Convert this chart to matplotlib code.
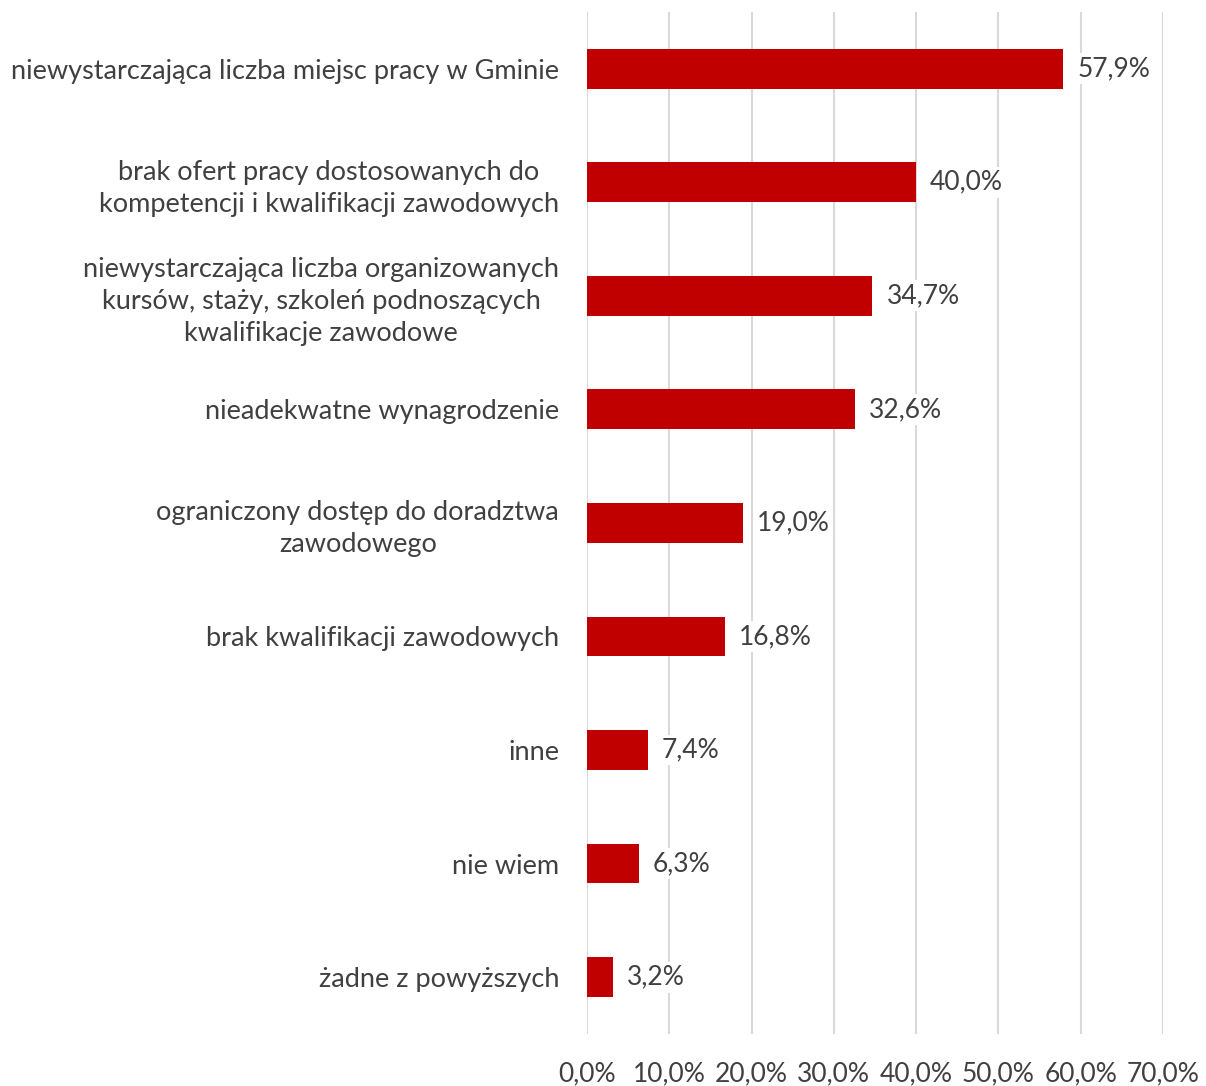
import matplotlib
matplotlib.use("Agg")
import matplotlib.pyplot as plt
from matplotlib.ticker import FuncFormatter

plt.rcParams["font.family"] = ["Lato", "DejaVu Sans"]

categories = [
	"niewystarczająca liczba miejsc pracy w Gminie",
	"brak ofert pracy dostosowanych do\nkompetencji i kwalifikacji zawodowych",
	"niewystarczająca liczba organizowanych\nkursów, staży, szkoleń podnoszących\nkwalifikacje zawodowe",
	"nieadekwatne wynagrodzenie",
	"ograniczony dostęp do doradztwa\nzawodowego",
	"brak kwalifikacji zawodowych",
	"inne",
	"nie wiem",
	"żadne z powyższych",
]
values = [57.9, 40.0, 34.7, 32.6, 19.0, 16.8, 7.4, 6.3, 3.2]
xticks = [0, 10, 20, 30, 40, 50, 60, 70]

text_color = "#404040"

fig = plt.figure(figsize=(12.06, 10.86), dpi=100)
ax = fig.add_axes([0.4867, 0.048, 0.4776, 0.941])

pos = range(len(categories))
ax.barh(pos, values, height=0.35, color="#C00000", zorder=2)

for y, v in zip(pos, values):
	ax.text(v + 1.7, y, f"{v:.1f}%".replace(".", ","), va="center", ha="left",
			fontsize=19, color=text_color, zorder=3,
			bbox=dict(facecolor="white", edgecolor="none", pad=2))

ax.set_xlim(0, 70)
ax.set_ylim(8.5, -0.5)
ax.set_xticks(xticks)
ax.xaxis.set_major_formatter(FuncFormatter(lambda x, _: f"{x:.1f}%".replace(".", ",")))
ax.set_yticks(list(pos))
ax.set_yticklabels(categories)
for lbl in ax.get_yticklabels():
	lbl.set_multialignment("center")
	lbl.set_linespacing(1.35)

ax.tick_params(axis="both", length=0, labelsize=19.5, labelcolor=text_color)
ax.tick_params(axis="x", labelsize=19)
ax.tick_params(axis="y", pad=20)
ax.tick_params(axis="x", pad=20)
ax.grid(axis="x", color="#D9D9D9", linewidth=1.5, zorder=0)
ax.set_axisbelow(True)
for s in ax.spines.values():
	s.set_visible(False)

plt.savefig("out.png", dpi=100)
